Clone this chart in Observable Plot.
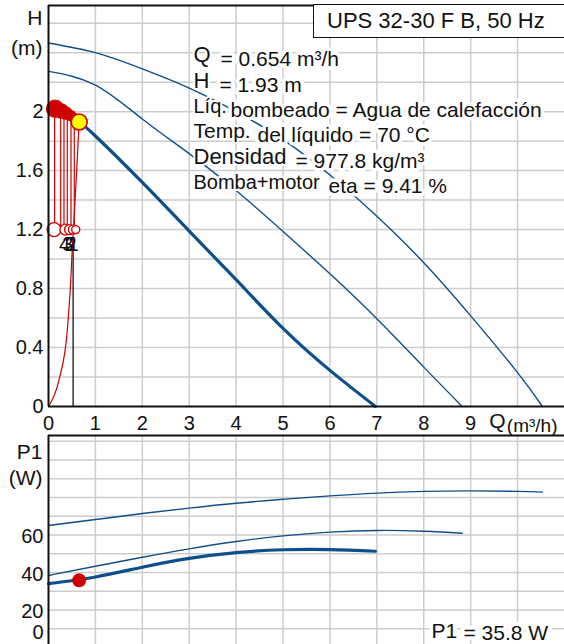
<!DOCTYPE html>
<html><head><meta charset="utf-8">
<script src="https://cdn.jsdelivr.net/npm/d3@7"></script>
<script src="https://cdn.jsdelivr.net/npm/@observablehq/plot@0.6"></script>
<style>
html,body{margin:0;padding:0;background:#fff;}
#wrap{position:relative;width:564px;height:644px;overflow:hidden;font-family:"Liberation Sans",Arial,sans-serif;background:#fff;}
#top,#bottom{position:absolute;left:0;}
#top{top:0}
#bottom{top:430px}
#title{position:absolute;left:313px;top:4px;width:290px;height:34px;border:1.5px solid #111;background:#fff;font-size:22px;line-height:31px;padding-left:13px;box-sizing:border-box;color:#111;white-space:nowrap;}
</style></head>
<body><div id="wrap"><div id="top"></div><div id="bottom"></div><div id="title">UPS 32-30 F B, 50 Hz</div></div>
<script>
// ---------- data ----------
// Head curves H(Q)
const qCurveA = [0, 1, 2, 3, 4, 5, 6, 7, 8, 9, 10, 10.53];
const hCurveA = [2.466, 2.40, 2.29, 2.16, 2.0, 1.81, 1.57, 1.29, 0.975, 0.615, 0.23, 0];
const qCurveB = [0, 1, 2, 3, 4, 5, 6, 7, 8, 8.82];
const hCurveB = [2.273, 2.18, 1.95, 1.715, 1.465, 1.187, 0.90, 0.595, 0.267, 0];
const qCurveC = [0.654, 1, 2, 3, 4, 5, 6, 6.97];
const hCurveC = [1.93, 1.835, 1.52, 1.19, 0.86, 0.53, 0.245, 0];
// Power curves P1(Q)
const qPowerA = [0, 1, 2, 3, 4, 5, 6, 7, 8, 9, 10, 10.53];
const pPowerA = [65, 68.2, 71.4, 74.3, 76.9, 79, 80.8, 82.3, 83.2, 83.5, 83.2, 82.8];
const qPowerB = [0, 1, 2, 3, 4, 5, 6, 7, 8, 8.82];
const pPowerB = [38.4, 43.3, 48.1, 52.6, 56.5, 59.5, 61.5, 62.4, 62.0, 60.9];
const qPowerC = [0, 1, 2, 3, 4, 5, 6, 6.97];
const pPowerC = [34, 37.6, 42.8, 47.5, 50.6, 52.1, 52.2, 51.3];
// Duty point
const dutyQ = 0.654, dutyH = 1.93, dutyP = 35.8;
// System curve (red)
const qSystem = [0, 0.22, 0.40, 0.47, 0.505, 0.55, 0.60, 0.654];
const hSystem = [0, 0.176, 0.515, 0.83, 1.06, 1.30, 1.60, 1.93];
// Red markers near the origin
const markerTopQ = [0.14, 0.27, 0.37, 0.46, 0.53];
const markerTopH = [2.02, 2.005, 1.99, 1.975, 1.96];
const dropQ = [0.13, 0.26, 0.33, 0.40, 0.48, 0.55];
const dropTopH = 2.0, dropBottomH = 1.2;
const ringQ = [0.12, 0.36, 0.45, 0.52, 0.58];
const ringH = 1.2;
const ringLabels = ["4", "3", "2", "1"];
const ringLabelQ = [0.34, 0.41, 0.48, 0.53];
const ringLabelH = 1.1;
const markQ = 0.525, markTopH = 1.05;
// Axis ticks
const xTicks = [0, 1, 2, 3, 4, 5, 6, 7, 8, 9];
const hTicks = [0, 0.4, 0.8, 1.2, 1.6, 2];
const pTicks = [20, 40, 60];
// Info texts
const infoLabels = ["Q", "H", "Líq.", "Temp.", "Densidad", "Bomba+motor"];
const infoValues = ["= 0.654 m³/h", "= 1.93 m", "bombeado = Agua de calefacción", "del líquido = 70 °C", "= 977.8 kg/m³", "eta = 9.41 %"];
const p1Label = "P1", p1Value = "= 35.8 W";

// ---------- build ----------
const zip = (xs, ys, kx, ky) => xs.map((v, i) => ({[kx]: v, [ky]: ys[i]}));
const curveA = zip(qCurveA, hCurveA, "q", "h");
const curveB = zip(qCurveB, hCurveB, "q", "h");
const curveC = zip(qCurveC, hCurveC, "q", "h");
const powerA = zip(qPowerA, pPowerA, "q", "p");
const powerB = zip(qPowerB, pPowerB, "q", "p");
const powerC = zip(qPowerC, pPowerC, "q", "p");
const system = zip(qSystem, hSystem, "q", "h");
const markerTop = zip(markerTopQ, markerTopH, "q", "h");
const ringLab = ringLabels.map((t, i) => ({t, q: ringLabelQ[i], h: ringLabelH}));

const FONT = '"Liberation Sans", Arial, sans-serif';
const BLUE = "#0d4f8b", RED = "#d00000", GRID = "#cdcdcd", INK = "#111";
const X_MAX = 11.0;

// layout / style of the info block (pixels relative to the frame)
const labelDy = [56, 82, 107, 132, 158, 183];
const valueDx = [172, 171, 182, 209, 247, 280];
const labelSize = [22, 22, 20, 21, 22, 20];

const infoMarks = [];
infoLabels.forEach((lab, i) => {
  infoMarks.push(Plot.text([infoValues[i]], {text: d => d, frameAnchor: "top-left", dx: valueDx[i], dy: labelDy[i] + 4,
    textAnchor: "start", lineAnchor: "bottom", fontSize: 21, fill: INK, stroke: "white", strokeWidth: 7}));
  infoMarks.push(Plot.text([lab], {text: d => d, frameAnchor: "top-left", dx: 145, dy: labelDy[i],
    textAnchor: "start", lineAnchor: "bottom", fontSize: labelSize[i], fill: INK, stroke: "white", strokeWidth: 4}));
});

// red marker blobs (radius is styling)
const topDotR = [8.5, 7, 6, 5, 4.5];
const ringR = [7, 5.5, 5, 4.5, 4];
const markerMarks = [];
markerTop.forEach((d, i) => markerMarks.push(Plot.dot([d], {x: "q", y: "h", r: topDotR[i], fill: RED, stroke: RED})));
ringQ.forEach((q, i) => markerMarks.push(Plot.dot([q], {x: d => d, y: ringH, r: ringR[i], fill: "white", stroke: RED, strokeWidth: 1.4})));

const topPlot = Plot.plot({
  width: 564, height: 430,
  marginLeft: 48, marginRight: 0, marginTop: 5, marginBottom: 24,
  x: {domain: [0, X_MAX]},
  y: {domain: [0, 2.72]},
  style: {fontFamily: FONT, fontSize: "20px", color: INK, background: "transparent", overflow: "visible"},
  marks: [
    Plot.gridX({ticks: d3.range(1, 11), stroke: GRID, strokeOpacity: 1, strokeWidth: 1.5}),
    Plot.gridY({ticks: d3.range(1, 14).map(i => +(i * 0.2).toFixed(1)), stroke: GRID, strokeOpacity: 1, strokeWidth: 1.5}),
    Plot.line(curveA, {x: "q", y: "h", stroke: BLUE, strokeWidth: 1.4, curve: "natural"}),
    Plot.line(curveB, {x: "q", y: "h", stroke: BLUE, strokeWidth: 1.4, curve: "natural"}),
    Plot.line(curveC, {x: "q", y: "h", stroke: BLUE, strokeWidth: 3.2, curve: "natural"}),
    ...infoMarks,
    Plot.ruleX([markQ], {y1: 0, y2: markTopH, stroke: INK, strokeWidth: 1.3}),
    Plot.line(system, {x: "q", y: "h", stroke: RED, strokeWidth: 1.2, curve: "monotone-x"}),
    Plot.ruleX(dropQ, {x: d => d, y1: dropBottomH, y2: dropTopH, stroke: RED, strokeWidth: 1.2}),
    ...markerMarks,
    Plot.text(ringLab, {x: "q", y: "h", text: "t", fontSize: 20, fill: INK}),
    Plot.dot([{q: dutyQ, h: dutyH}], {x: "q", y: "h", r: 8, fill: "#ffff00", stroke: RED, strokeWidth: 1.6}),
    Plot.ruleX([0], {stroke: INK, strokeWidth: 2}),
    Plot.ruleY([0], {stroke: INK, strokeWidth: 2}),
    Plot.ruleY([2.72], {stroke: INK, strokeWidth: 2}),
    Plot.axisX({ticks: xTicks, tickSize: 0, tickPadding: 9, label: null, fontSize: 20}),
    Plot.axisY({ticks: hTicks, tickSize: 0, tickPadding: 5, label: null, fontSize: 20, tickFormat: d3.format("~g")}),
    Plot.text(["H"], {text: d => d, frameAnchor: "top-left", dx: -6, dy: 13, textAnchor: "end", lineAnchor: "middle", fontSize: 21, fill: INK}),
    Plot.text(["(m)"], {text: d => d, frameAnchor: "top-left", dx: -6, dy: 43, textAnchor: "end", lineAnchor: "middle", fontSize: 21, fill: INK}),
    Plot.text(["(m³/h)"], {text: d => d, frameAnchor: "bottom-right", dx: -7, dy: 19, textAnchor: "end", lineAnchor: "middle", fontSize: 19, fill: INK}),
    Plot.text(["Q"], {text: d => d, frameAnchor: "bottom-right", dx: -59, dy: 15, textAnchor: "end", lineAnchor: "middle", fontSize: 21, fill: INK})
  ]
});
document.getElementById("top").appendChild(topPlot);

const bottomPlot = Plot.plot({
  width: 564, height: 217,
  marginLeft: 48, marginRight: 0, marginTop: 5, marginBottom: 0,
  x: {domain: [0, X_MAX], axis: null},
  y: {domain: [0, 113]},
  style: {fontFamily: FONT, fontSize: "20px", color: INK, background: "transparent", overflow: "visible"},
  marks: [
    Plot.gridX({ticks: d3.range(1, 11), stroke: GRID, strokeOpacity: 1, strokeWidth: 1.5}),
    Plot.gridY({ticks: d3.range(10, 111, 10), stroke: GRID, strokeOpacity: 1, strokeWidth: 1.5}),
    Plot.line(powerA, {x: "q", y: "p", stroke: BLUE, strokeWidth: 1.4, curve: "natural"}),
    Plot.line(powerB, {x: "q", y: "p", stroke: BLUE, strokeWidth: 1.4, curve: "natural"}),
    Plot.line(powerC, {x: "q", y: "p", stroke: BLUE, strokeWidth: 3.2, curve: "natural"}),
    Plot.dot([{q: dutyQ, p: dutyP}], {x: "q", y: "p", r: 7, fill: RED}),
    Plot.ruleX([0], {stroke: INK, strokeWidth: 2}),
    Plot.ruleY([113], {stroke: INK, strokeWidth: 2.2}),
    Plot.axisY({ticks: pTicks, tickSize: 0, tickPadding: 5, label: null, fontSize: 20, dy: 2}),
    Plot.text(["0"], {text: d => d, frameAnchor: "bottom-left", dx: -5, dy: -15, textAnchor: "end", lineAnchor: "middle", fontSize: 20, fill: INK}),
    Plot.text(["P1"], {text: d => d, frameAnchor: "top-left", dx: -6, dy: 17, textAnchor: "end", lineAnchor: "middle", fontSize: 21, fill: INK}),
    Plot.text(["(W)"], {text: d => d, frameAnchor: "top-left", dx: -6, dy: 43, textAnchor: "end", lineAnchor: "middle", fontSize: 21, fill: INK}),
    Plot.text([p1Label], {text: d => d, frameAnchor: "bottom-left", dx: 383, dy: -10, textAnchor: "start", lineAnchor: "bottom", fontSize: 21, fill: INK, stroke: "white", strokeWidth: 8}),
    Plot.text([p1Value], {text: d => d, frameAnchor: "bottom-left", dx: 415, dy: -8, textAnchor: "start", lineAnchor: "bottom", fontSize: 21, fill: INK, stroke: "white", strokeWidth: 8})
  ]
});
document.getElementById("bottom").appendChild(bottomPlot);
</script>
</body></html>
